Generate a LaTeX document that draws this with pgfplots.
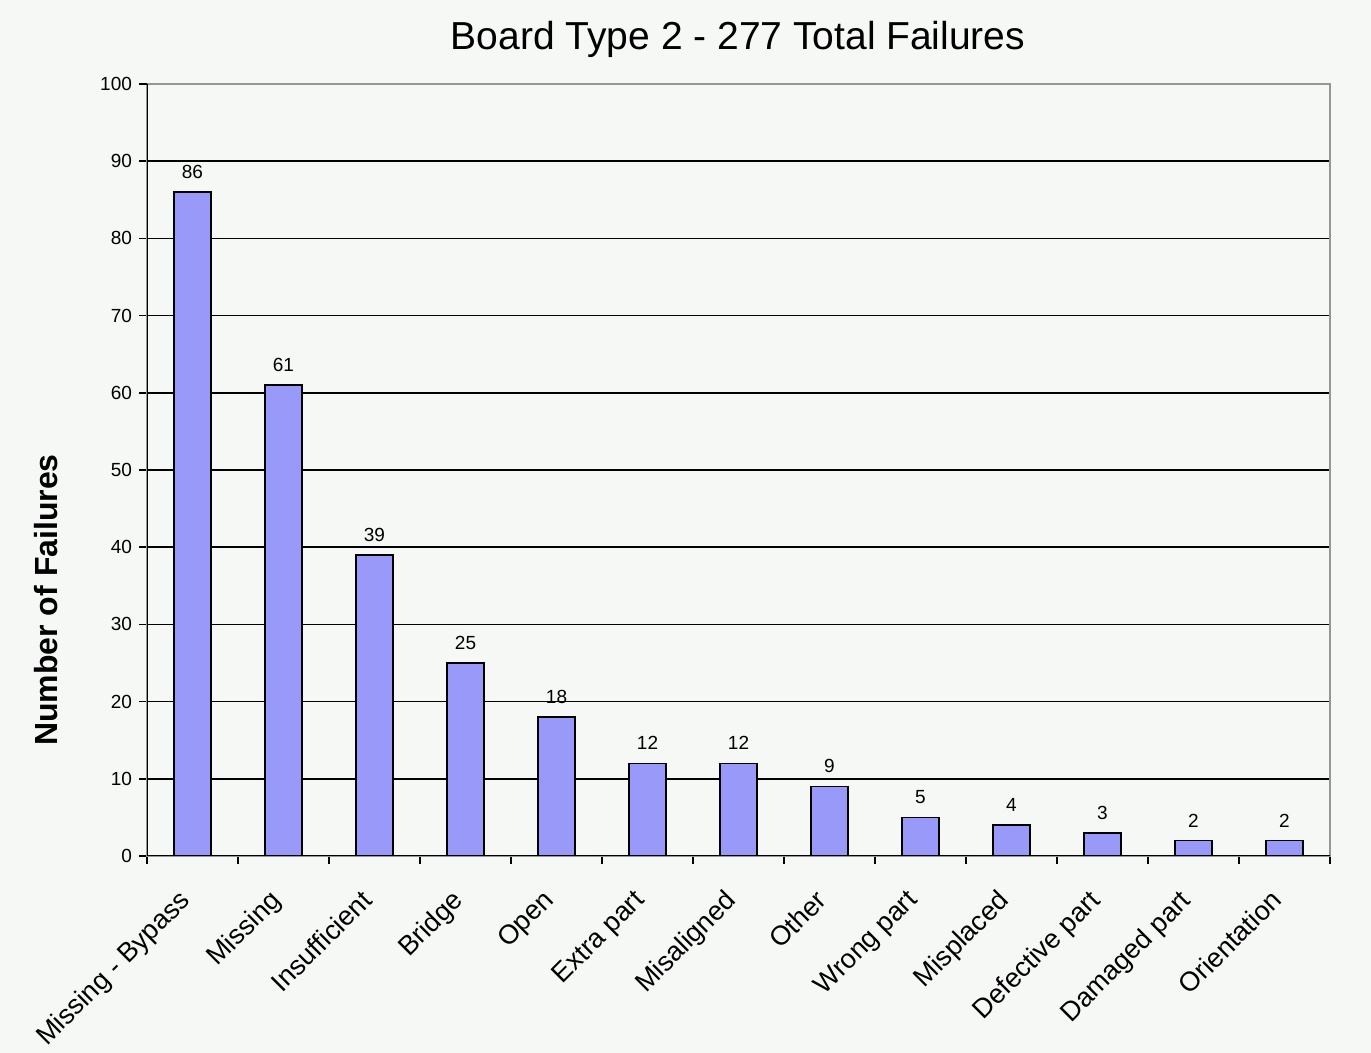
\documentclass[border=0pt]{standalone}
\usepackage{pgfplots}
\pgfplotsset{compat=1.18}
\usepackage{fontspec}
\setmainfont{Liberation Sans}
\definecolor{bg}{RGB}{245,248,245}
\definecolor{barc}{RGB}{153,153,250}
\definecolor{frame}{RGB}{150,150,150}
\begin{document}
\begin{tikzpicture}
\fill[bg] (0,0) rectangle (685.5pt,526.5pt);
\useasboundingbox (0,0) rectangle (685.5pt,526.5pt);
\begin{axis}[
  at={(73.5pt,98.5pt)}, anchor=south west,
  scale only axis, width=591.5pt, height=386pt,
  xmin=-0.5, xmax=12.5, ymin=0, ymax=100,
  /pgf/number format/assume math mode=true,
  axis line style={draw=frame, line width=0.75pt},
  xtick={-0.5,0.5,...,12.5},
  x tick label as interval,
  xticklabels={Missing - Bypass,Missing,Insufficient,Bridge,Open,Extra part,Misaligned,Other,Wrong part,Misplaced,Defective part,Damaged part,Orientation},
  xticklabel style={xshift=-7.5pt, yshift=-10.5pt, rotate=45, anchor=north east, font=\fontsize{13.5}{15}\selectfont, inner sep=1pt},
  ytick={0,10,...,90},
  extra y ticks={100},
  extra y tick style={grid=none},
  yticklabel style={font=\fontsize{9.5}{11}\selectfont},
  xtick pos=bottom, ytick pos=left,
  tick align=outside, major tick length=4pt,
  tick style={black, line width=0.75pt},
  ymajorgrids, grid style={black, line width=0.75pt},
  ybar, bar width=18.5pt,
  nodes near coords,
  every node near coord/.append style={font=\fontsize{9.5}{11}\selectfont, black, yshift=3pt},
]
\addplot[fill=barc, draw=black, line width=0.75pt] coordinates {
(0,86) (1,61) (2,39) (3,25) (4,18) (5,12) (6,12) (7,9) (8,5) (9,4) (10,3) (11,2) (12,2)};
\draw[black, line width=0.75pt] (rel axis cs:0,1) -- (rel axis cs:0,0) -- (rel axis cs:1,0);
\end{axis}
\node[anchor=base, font=\fontsize{19.5}{22}\selectfont] at (369pt,501.5pt) {Board Type 2 - 277 Total Failures};
\node[rotate=90, font=\bfseries\fontsize{16}{18}\selectfont] at (23pt,226.5pt) {Number of Failures};
\end{tikzpicture}
\end{document}
